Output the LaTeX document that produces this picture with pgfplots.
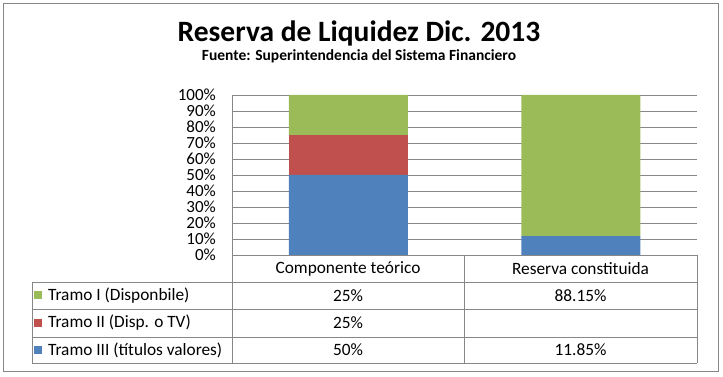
\documentclass[border=0pt]{standalone}
\usepackage{pgfplots}
\pgfplotsset{compat=1.18}
\usepackage{fontspec}
\setmainfont{Carlito}
\definecolor{cgreen}{HTML}{9BBB59}
\definecolor{cred}{HTML}{C0504D}
\definecolor{cblue}{HTML}{4F81BD}
\definecolor{gridc}{HTML}{878787}
\begin{document}
\begin{tikzpicture}[x=1pt,y=1pt]
\path[use as bounding box] (0,0) rectangle (723,377);
\draw[gridc, line width=1pt] (3,5) rectangle (718,373);
\node[font=\fontsize{29.5}{32}\selectfont\bfseries, anchor=base, inner sep=0pt] at (359,335) {Reserva de Liquidez Dic. 2013};
\node[font=\fontsize{15.5}{17}\selectfont\bfseries, anchor=base, inner sep=0pt] at (359,316) {Fuente: Superintendencia del Sistema Financiero};
\begin{axis}[
  at={(232pt,122pt)}, anchor=south west,
  scale only axis, width=465pt, height=160pt,
  ybar stacked, bar width=119pt,
  xmin=-0.5, xmax=1.5, ymin=0, ymax=100,
  ytick={0,10,...,100}, xtick=\empty,
  ymajorgrids, grid style={gridc, line width=0.8pt},
  axis line style={draw=none},
  major tick length=0pt,
  /pgf/number format/assume math mode=true,
  yticklabel={\pgfmathprintnumber{\tick}\%},
  yticklabel style={font=\fontsize{17}{18}\selectfont, anchor=east, xshift=-16pt, inner sep=0pt},
  clip=false,
]
\addplot[fill=cblue, draw=none] coordinates {(0,50) (1,11.85)};
\addplot[fill=cred, draw=none] coordinates {(0,25) (1,0)};
\addplot[fill=cgreen, draw=none] coordinates {(0,25) (1,88.15)};
\end{axis}
% table lines
\begin{scope}[gridc, line width=0.8pt]
\draw (232,282) -- (232,14);
\draw (464,122) -- (464,14);
\draw (697,122) -- (697,14);
\draw (32,95) -- (697,95);
\draw (32,68) -- (697,68);
\draw (32,40) -- (697,40);
\draw (32,14) -- (697,14);
\draw (32,95) -- (32,14);
\end{scope}
\begin{scope}[every node/.style={font=\fontsize{17.3}{19}\selectfont, inner sep=0pt}]
\node at (348,108.5) {Componente teórico};
\node at (580.5,108.5) {Reserva constituida};
\fill[cgreen] (34,77.5) rectangle (42,85.5);
\fill[cred] (34,50) rectangle (42,58);
\fill[cblue] (34,23) rectangle (42,31);
\node[anchor=west] at (48,81.5) {Tramo I (Disponbile)};
\node[anchor=west] at (48,54) {Tramo II (Disp. o TV)};
\node[anchor=west] at (48,27) {Tramo III (títulos valores)};
\node at (348,81.5) {25\%};
\node at (580.5,81.5) {88.15\%};
\node at (348,54) {25\%};
\node at (348,27) {50\%};
\node at (580.5,27) {11.85\%};
\end{scope}
\end{tikzpicture}
\end{document}
